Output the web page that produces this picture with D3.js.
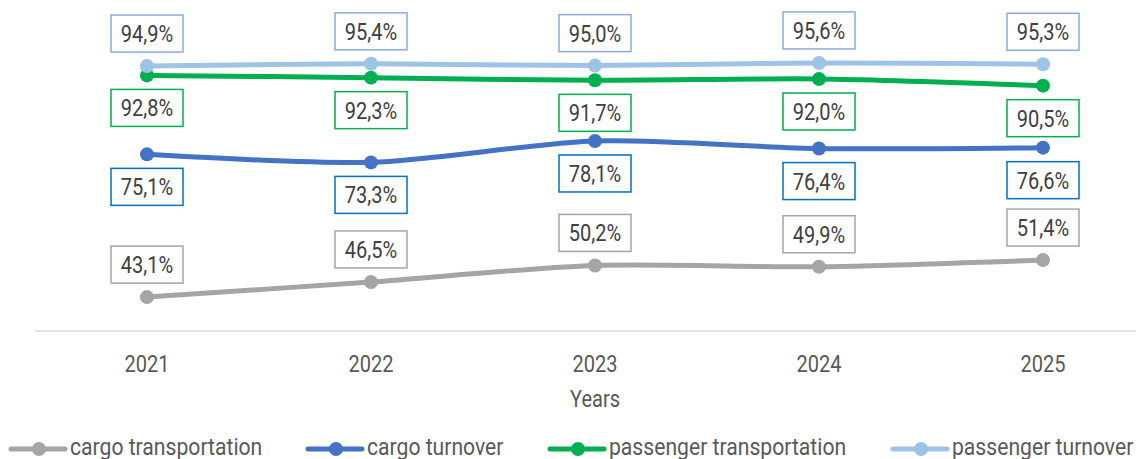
<!DOCTYPE html>
<html>
<head>
<meta charset="utf-8">
<script src="https://cdn.jsdelivr.net/npm/d3@7"></script>
<style>
  body { margin: 0; background: #fff; }
  svg { display: block; font-family: Roboto, "Open Sans", sans-serif; }
</style>
</head>
<body>
<svg id="chart" width="1136" height="459"></svg>
<script>
// data
var years = ["2021", "2022", "2023", "2024", "2025"];
var seriesNames = ["cargo transportation", "cargo turnover", "passenger transportation", "passenger turnover"];
var cargoTransportation = [43.1, 46.5, 50.2, 49.9, 51.4];
var cargoTurnover = [75.1, 73.3, 78.1, 76.4, 76.6];
var passengerTransportation = [92.8, 92.3, 91.7, 92.0, 90.5];
var passengerTurnover = [94.9, 95.4, 95.0, 95.6, 95.3];

var chart = {
    lineColors: ["#a5a5a5", "#4472c4", "#00b050", "#9dc3e6"],
    boxColors: ["#a5a5a5", "#0070c0", "#00b050", "#8eaadb"],
    // label above (-1) or below (+1) the point
    labelSide: [-1, 1, 1, -1],
    legendX: [11, 308, 550, 893],
    squeeze: 0.87,
    fontSize: 23,

    // condensed text: Roboto squeezed horizontally
    addText: function(g, x, y, str, color, anchor, squeeze){
        let t = g.append("g")
            .attr("transform", "translate(" + x + "," + y + ") scale(" + (squeeze || chart.squeeze) + ",1)");
        t.append("text")
            .attr("text-anchor", anchor || "middle")
            .attr("font-size", chart.fontSize)
            .attr("fill", color)
            .text(str);
        return t;
    },

    init: function(){
        let svg = d3.select("#chart");
        let values = [cargoTransportation, cargoTurnover, passengerTransportation, passengerTurnover];

        let xScale = d3.scaleBand().domain(years).range([35, 1155]);
        let xc = d => xScale(d) + xScale.bandwidth() / 2;
        let yScale = d3.scaleLinear().domain([35.5, 100]).range([331, 43.3]);

        // horizontal axis line
        svg.append("line")
            .attr("x1", 35).attr("x2", 1155)
            .attr("y1", 331).attr("y2", 331)
            .attr("stroke", "#d9d9d9").attr("stroke-width", 1.5);

        // year ticks
        years.forEach(function(y){
            chart.addText(svg, xc(y), 372, y, "#595959");
        });
        chart.addText(svg, xc("2023"), 407, "Years", "#595959");

        let line = d3.line()
            .x((d, i) => xc(years[i]))
            .y(d => yScale(d))
            .curve(d3.curveCardinal.tension(0.2));

        values.forEach(function(vals, s){
            let g = svg.append("g").attr("class", "series");
            g.append("path")
                .attr("d", line(vals))
                .attr("fill", "none")
                .attr("stroke", chart.lineColors[s])
                .attr("stroke-width", 5)
                .attr("stroke-linecap", "round");
            g.selectAll("circle")
                .data(vals)
                .enter()
                .append("circle")
                .attr("cx", (d, i) => xc(years[i]))
                .attr("cy", d => yScale(d))
                .attr("r", 7)
                .attr("fill", chart.lineColors[s]);
        });

        // data labels in boxes
        values.forEach(function(vals, s){
            vals.forEach(function(v, i){
                let cx = xc(years[i]);
                let cy = yScale(v) + chart.labelSide[s] * 32.5;
                svg.append("rect")
                    .attr("x", cx - 36).attr("y", cy - 18.5)
                    .attr("width", 72).attr("height", 37)
                    .attr("fill", "#fff")
                    .attr("stroke", chart.boxColors[s])
                    .attr("stroke-width", 1.5);
                chart.addText(svg, cx, cy + 8.5, v.toFixed(1).replace(".", ",") + "%", "#404040");
            });
        });

        // legend
        seriesNames.forEach(function(name, s){
            let x0 = chart.legendX[s];
            let g = svg.append("g").attr("class", "legend");
            g.append("line")
                .attr("x1", x0).attr("x2", x0 + 54)
                .attr("y1", 449).attr("y2", 449)
                .attr("stroke", chart.lineColors[s])
                .attr("stroke-width", 5)
                .attr("stroke-linecap", "round");
            g.append("circle")
                .attr("cx", x0 + 28).attr("cy", 449).attr("r", 7)
                .attr("fill", chart.lineColors[s]);
            chart.addText(g, x0 + 59, 455, name, "#595959", "start", 0.92);
        });
    }
};
chart.init();
</script>
</body>
</html>
